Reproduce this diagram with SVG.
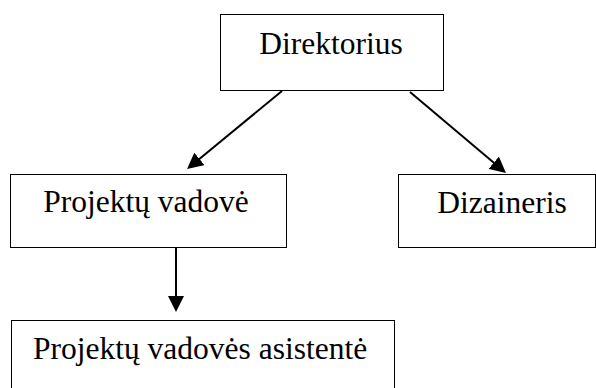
<svg xmlns="http://www.w3.org/2000/svg" width="596" height="388" viewBox="0 0 596 388">
  <style>
    .box { fill: #ffffff; stroke: #000000; stroke-width: 1; }
    .conn { stroke: #000000; stroke-width: 2; fill: none; marker-end: url(#arrow); }
  </style>
  <defs>
    <marker id="arrow" viewBox="0 0 16 16" markerWidth="16" markerHeight="16" refX="4" refY="8" orient="auto" markerUnits="userSpaceOnUse">
      <path d="M0,0 L16,8 L0,16 z" fill="#000000"/>
    </marker>
  </defs>
  <rect width="596" height="388" fill="#ffffff"/>
  <g id="connectors">
    <line class="conn" x1="282" y1="91" x2="196.3" y2="161.4"/>
    <line class="conn" x1="410" y1="92" x2="496.8" y2="165.3"/>
    <line class="conn" x1="176" y1="248" x2="176" y2="300"/>
  </g>
  <g id="direktorius">
    <rect class="box" x="220.5" y="14.5" width="223" height="76"/>
    <text x="331" y="54" text-anchor="middle" font-family="Liberation Serif, serif" font-size="31.5" fill="#000">Direktorius</text>
  </g>
  <g id="projektu-vadove">
    <rect class="box" x="10.5" y="174.5" width="276" height="73"/>
    <text x="146" y="212" text-anchor="middle" font-family="Liberation Serif, serif" font-size="31.5" fill="#000">Projektų vadovė</text>
  </g>
  <g id="dizaineris">
    <rect class="box" x="398.5" y="174.5" width="197" height="73"/>
    <text x="502" y="213" text-anchor="middle" font-family="Liberation Serif, serif" font-size="31.5" fill="#000">Dizaineris</text>
  </g>
  <g id="asistente">
    <rect class="box" x="11.5" y="320.5" width="383" height="80"/>
    <text x="33" y="359" font-family="Liberation Serif, serif" font-size="31.5" fill="#000">Projektų vadovės asistentė</text>
  </g>
</svg>
